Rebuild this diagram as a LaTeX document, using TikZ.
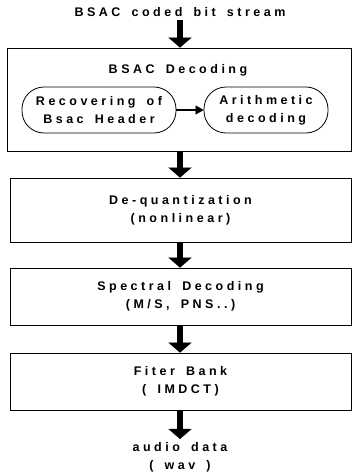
\documentclass[tikz,border=0pt]{standalone}
\usepackage{fontspec}
\setmainfont{Liberation Sans}[LetterSpace=28,WordSpace=1.6]
\usetikzlibrary{arrows.meta}
\usetikzlibrary{positioning}
\tikzset{
	block/.style={draw=black, line width=0.8pt, align=center, inner sep=0pt},
	roundblock/.style={draw=black, line width=0.8pt, rounded corners=22pt,
		minimum height=46pt, align=center, inner sep=0pt},
	plaintext/.style={align=center, inner sep=3pt},
	flow/.style={draw=black, line width=6pt,
		-{Triangle[width=23pt,length=10pt,line width=0.1pt]}},
	smallflow/.style={draw=black, line width=1.6pt,
		-{Triangle[width=9pt,length=8pt,line width=0.1pt]}},
}

\begin{document}
\begin{tikzpicture}[x=1pt, y=-1pt, font=\bfseries\fontsize{12.5}{18}\selectfont]
	\useasboundingbox (0,0) rectangle (352,474);
	\node[plaintext] (in) at (180,12) {BSAC coded bit stream};
	% BSAC decoding block
	\node[block, minimum width=344pt, minimum height=103pt] (bsac) at (179,99.5) {};
	\node[plaintext] (bsactitle) at (178,70) {BSAC Decoding};
	\node[roundblock, minimum width=154pt] (rec) at (99,110) {Recovering of\\Bsac Header};
	\node[roundblock, minimum width=124pt] (arith) at (266,110) {Arithmetic\\decoding};
	\draw[smallflow] (rec) -- (arith);
	% remaining stages
	\node[block, minimum width=341pt, minimum height=64pt] (dequant) at (180.5,210) {De-quantization\\(nonlinear)};
	\node[block, minimum width=341pt, minimum height=57pt] (spectral) at (180.5,296.5) {Spectral Decoding\\(M/S, PNS..)};
	\node[block, minimum width=341pt, minimum height=57pt] (filter) at (180.5,381.5) {Fiter Bank\\( IMDCT)};
	\node[plaintext] (out) at (180,457) {audio data\\( wav )};
	\draw[flow] (in.south) -- (in.south |- bsac.north);
	\draw[flow] (in.south |- bsac.south) -- (in.south |- dequant.north);
	\draw[flow] (in.south |- dequant.south) -- (in.south |- spectral.north);
	\draw[flow] (in.south |- spectral.south) -- (in.south |- filter.north);
	\draw[flow] (in.south |- filter.south) -- (out.north);
\end{tikzpicture}
\end{document}
